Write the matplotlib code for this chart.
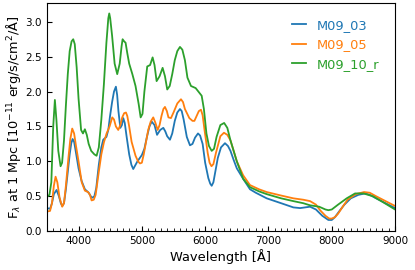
import numpy as np
import matplotlib
matplotlib.use('Agg')
import matplotlib.pyplot as plt
from matplotlib.ticker import MultipleLocator

# M09_03 (blue)
wl_03 = [3500, 3550, 3580, 3610, 3653, 3690, 3720, 3742, 3770, 3800, 3830, 3860,
         3885, 3906, 3930, 3960, 4000, 4048, 4100, 4160, 4200, 4222, 4250, 4280,
         4320, 4360, 4390, 4440, 4470, 4496, 4530, 4560, 4590, 4610, 4630, 4660,
         4685, 4706, 4730, 4760, 4800, 4835, 4864, 4900, 4930, 5000, 5040, 5080,
         5120, 5155, 5200, 5240, 5290, 5339, 5370, 5400, 5444, 5480, 5520, 5560,
         5602, 5630, 5660, 5710, 5760, 5800, 5840, 5887, 5920, 5960, 6000, 6050,
         6080, 6103, 6130, 6160, 6200, 6250, 6313, 6360, 6400, 6450, 6500, 6600,
         6708, 6800, 6972, 7200, 7393, 7500, 7657, 7750, 7850, 7946, 8000, 8050,
         8131, 8200, 8300, 8420, 8526, 8600, 8700, 8850, 9000]
fl_03 = [0.33, 0.32, 0.40, 0.53, 0.59, 0.50, 0.40, 0.36, 0.40, 0.60, 0.85, 1.10,
         1.26, 1.32, 1.28, 1.12, 0.90, 0.72, 0.60, 0.55, 0.49, 0.48, 0.50, 0.62,
         0.95, 1.20, 1.31, 1.35, 1.45, 1.64, 1.85, 2.00, 2.07, 1.95, 1.72, 1.48,
         1.52, 1.62, 1.55, 1.35, 1.10, 0.95, 0.89, 0.95, 1.00, 1.09, 1.18, 1.35,
         1.50, 1.57, 1.52, 1.38, 1.45, 1.48, 1.43, 1.36, 1.31, 1.40, 1.58, 1.70,
         1.75, 1.72, 1.60, 1.35, 1.23, 1.25, 1.34, 1.40, 1.37, 1.25, 0.98, 0.76,
         0.68, 0.65, 0.70, 0.85, 1.05, 1.20, 1.26, 1.22, 1.15, 1.02, 0.90, 0.75,
         0.60, 0.55, 0.47, 0.40, 0.34, 0.33, 0.35, 0.31, 0.22, 0.16, 0.16, 0.20,
         0.30, 0.38, 0.47, 0.52, 0.54, 0.52, 0.47, 0.40, 0.33]

# M09_05 (orange)
wl_05 = [3500, 3550, 3580, 3610, 3637, 3665, 3700, 3742, 3770, 3800, 3840, 3870,
         3900, 3930, 3960, 4000, 4050, 4100, 4150, 4180, 4206, 4240, 4270, 4320,
         4360, 4400, 4443, 4490, 4532, 4560, 4590, 4627, 4660, 4690, 4720, 4749,
         4770, 4800, 4838, 4900, 4940, 4970, 5000, 5030, 5070, 5100, 5140, 5180,
         5215, 5250, 5280, 5310, 5340, 5365, 5395, 5420, 5460, 5500, 5560, 5618,
         5650, 5680, 5750, 5800, 5830, 5870, 5900, 5934, 5960, 5990, 6040, 6070,
         6100, 6130, 6170, 6240, 6297, 6350, 6400, 6450, 6500, 6600, 6708, 6850,
         6972, 7200, 7393, 7550, 7657, 7750, 7815, 7900, 7960, 8000, 8050, 8100,
         8180, 8250, 8380, 8510, 8600, 8700, 8850, 9000]
fl_05 = [0.28, 0.29, 0.40, 0.65, 0.78, 0.70, 0.48, 0.35, 0.40, 0.65, 1.05, 1.32,
         1.47, 1.40, 1.22, 1.00, 0.70, 0.58, 0.56, 0.52, 0.44, 0.45, 0.52, 0.85,
         1.10, 1.27, 1.40, 1.50, 1.63, 1.60, 1.50, 1.45, 1.52, 1.63, 1.69, 1.70,
         1.65, 1.50, 1.28, 1.08, 1.00, 0.97, 0.98, 1.10, 1.30, 1.45, 1.57, 1.63,
         1.55, 1.45, 1.52, 1.65, 1.75, 1.78, 1.72, 1.63, 1.62, 1.70, 1.83, 1.89,
         1.85, 1.75, 1.62, 1.58, 1.58, 1.66, 1.72, 1.74, 1.66, 1.45, 1.12, 0.98,
         0.93, 0.96, 1.12, 1.36, 1.41, 1.38, 1.30, 1.15, 1.00, 0.80, 0.66, 0.60,
         0.56, 0.51, 0.47, 0.45, 0.43, 0.38, 0.30, 0.22, 0.18, 0.18, 0.20, 0.25,
         0.36, 0.45, 0.53, 0.56, 0.55, 0.50, 0.43, 0.36]

# M09_10_r (green)
wl_10 = [3500, 3540, 3570, 3600, 3626, 3650, 3680, 3716, 3740, 3770, 3800, 3830,
         3860, 3890, 3916, 3940, 3970, 4000, 4040, 4070, 4100, 4130, 4160, 4200,
         4250, 4285, 4320, 4360, 4400, 4440, 4470, 4485, 4500, 4530, 4570, 4611,
         4650, 4680, 4696, 4720, 4743, 4770, 4800, 4850, 4900, 4950, 4981, 5010,
         5040, 5085, 5130, 5170, 5200, 5233, 5280, 5328, 5365, 5401, 5440, 5480,
         5520, 5560, 5602, 5640, 5680, 5720, 5776, 5850, 5945, 5980, 6020, 6060,
         6103, 6140, 6180, 6240, 6300, 6350, 6400, 6450, 6500, 6600, 6708, 6850,
         6972, 7200, 7393, 7550, 7657, 7800, 7900, 7946, 8000, 8100, 8236, 8368,
         8500, 8650, 8800, 9000]
fl_10 = [0.49, 0.52, 0.70, 1.50, 1.88, 1.60, 1.15, 0.93, 0.98, 1.30, 1.80, 2.25,
         2.58, 2.72, 2.75, 2.68, 2.35, 1.90, 1.45, 1.40, 1.46, 1.38, 1.25, 1.15,
         1.10, 1.08, 1.20, 1.60, 2.10, 2.70, 3.05, 3.12, 3.05, 2.80, 2.40, 2.25,
         2.40, 2.65, 2.75, 2.72, 2.70, 2.55, 2.40, 2.25, 2.08, 1.82, 1.63, 1.68,
         2.00, 2.36, 2.38, 2.49, 2.38, 2.15, 2.22, 2.34, 2.22, 2.03, 2.08, 2.25,
         2.45, 2.58, 2.64, 2.60, 2.45, 2.20, 2.08, 2.05, 1.94, 1.75, 1.40, 1.22,
         1.15, 1.18, 1.35, 1.52, 1.55, 1.48, 1.30, 1.15, 1.00, 0.75, 0.63, 0.57,
         0.53, 0.47, 0.43, 0.40, 0.37, 0.35, 0.31, 0.30, 0.31, 0.38, 0.47, 0.54,
         0.54, 0.50, 0.42, 0.31]

fig = plt.figure(figsize=(4.15, 2.7), dpi=100)
ax = fig.add_axes([0.113, 0.144, 0.839, 0.845])

ax.plot(wl_03, fl_03, color='#1f77b4', lw=1.3, label='M09_03')
ax.plot(wl_05, fl_05, color='#ff7f0e', lw=1.3, label='M09_05')
ax.plot(wl_10, fl_10, color='#2ca02c', lw=1.3, label='M09_10_r')

ax.set_xlim(3500, 9000)
ax.set_ylim(0, 3.27)
ax.xaxis.set_minor_locator(MultipleLocator(100))
ax.tick_params(axis='both', which='both', direction='in', labelsize=7.5)
ax.tick_params(which='major', length=3.5)
ax.tick_params(which='minor', length=2)

ax.set_xlabel('Wavelength [Å]', fontsize=9.4, labelpad=2)
ax.set_ylabel(r'F$_\lambda$ at 1 Mpc [10$^{-11}$ erg/s/cm$^2$/Å]', fontsize=9.3, labelpad=2)

ax.legend(loc='upper right', frameon=False, fontsize=9.4, handlelength=1.1,
          labelcolor='linecolor', borderaxespad=0.8)

fig.savefig('out.png', dpi=100)
